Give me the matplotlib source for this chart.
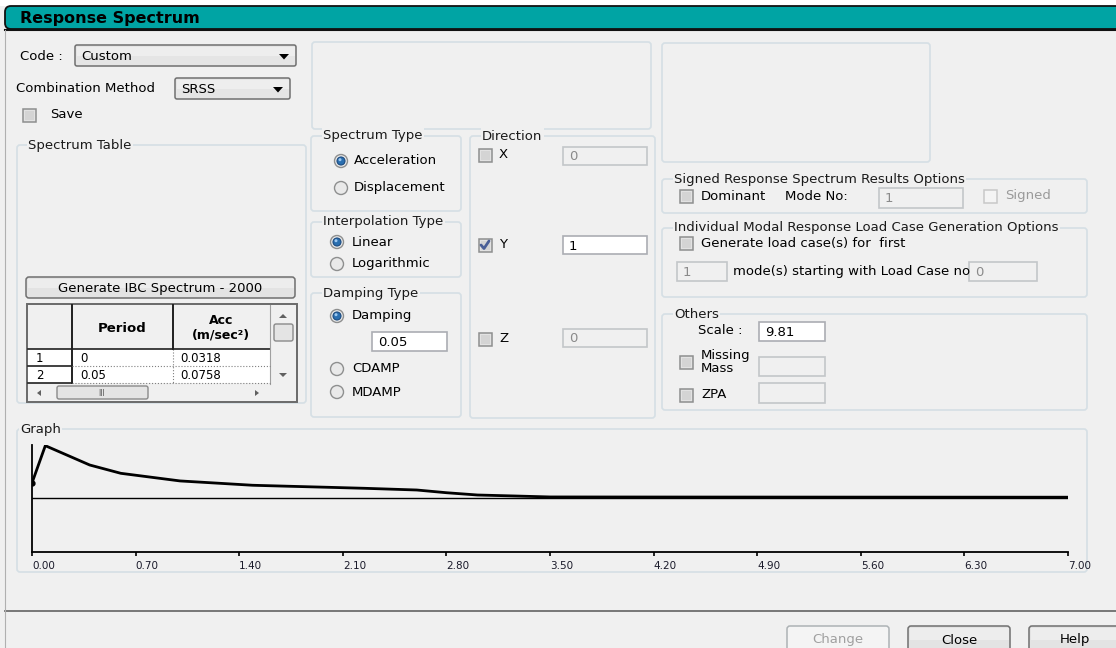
import matplotlib
matplotlib.use("Agg")
import matplotlib.pyplot as plt
from matplotlib.patches import Rectangle, FancyBboxPatch, Circle, Polygon

plt.rcParams['font.family'] = ['DejaVu Sans']

# ---------------- data ----------------
period = [0.00, 0.09, 0.39, 0.60, 1.00, 1.27, 1.49, 1.74, 2.00, 2.25, 2.60,
          2.80, 3.01, 3.25, 3.50, 4.40, 7.00]
acc = [0.0318, 0.0758, 0.0530, 0.0432, 0.0342, 0.0314, 0.0291, 0.0279, 0.0267,
       0.0255, 0.0235, 0.0203, 0.0176, 0.0165, 0.0153, 0.0152, 0.0150]
baseline_acc = 0.0138
x_ticks = [0.00, 0.70, 1.40, 2.10, 2.80, 3.50, 4.20, 4.90, 5.60, 6.30, 7.00]
x_tick_labels = ["0.00", "0.70", "1.40", "2.10", "2.80", "3.50", "4.20",
                 "4.90", "5.60", "6.30", "7.00"]
table_rows = ["1", "2"]
table_period = ["0", "0.05"]
table_acc = ["0.0318", "0.0758"]

W, H = 1116, 648
BG = '#F0F0F0'
GRP = '#D5DFE5'
FS = 9.5

fig = plt.figure(figsize=(W / 100, H / 100), dpi=100)
fig.patch.set_facecolor(BG)
ax = fig.add_axes([0, 0, 1, 1])
ax.set_xlim(0, W)
ax.set_ylim(H, 0)
ax.axis('off')


def txt(x, y, s, size=FS, color='#000000', weight='normal', ha='left', z=5):
    ax.text(x, y, s, fontsize=size, color=color, fontweight=weight, ha=ha,
            va='center', zorder=z)


def group(x0, y0, x1, y1, title=None, tx=None):
    ax.add_patch(FancyBboxPatch((x0, y0), x1 - x0, y1 - y0,
                                boxstyle="round,pad=0,rounding_size=3",
                                fc='none', ec=GRP, lw=1.2, zorder=1))
    if title:
        ax.text(tx if tx else x0 + 12, y0, title, fontsize=FS, color='#1a1a1a',
                ha='left', va='center', zorder=3,
                bbox=dict(fc=BG, ec='none', pad=1.0))


def textbox(x0, y0, x1, y1, s='', enabled=True):
    fc = 'white' if enabled else BG
    ec = '#ABADB3' if enabled else '#C3C6C9'
    ax.add_patch(Rectangle((x0, y0), x1 - x0, y1 - y0, fc=fc, ec=ec, lw=1.2,
                           zorder=2))
    if s:
        txt(x0 + 6, (y0 + y1) / 2 + 1, s, color='#000000' if enabled else '#8A8A8A')


def checkbox(cx, cy, checked=False, enabled=True):
    s = 13
    ec = '#8E8F8F' if enabled else '#C8C8C8'
    fc = '#E2E2E2' if enabled else '#F4F4F4'
    ax.add_patch(Rectangle((cx - s / 2, cy - s / 2), s, s, fc=fc, ec=ec, lw=1.1,
                           zorder=3))
    if enabled:
        ax.add_patch(Rectangle((cx - s / 2 + 2, cy - s / 2 + 2), s - 4, s - 4,
                               fc='#D4D4D4', ec='none', zorder=3))
    if checked:
        ax.plot([cx - 4, cx - 1, cx + 4], [cy, cy + 3.5, cy - 4], color='#4A5F97',
                lw=2.0, zorder=4, solid_capstyle='round')


def radio(cx, cy, selected=False):
    ax.add_patch(Circle((cx, cy), 6.5, fc='#E9E9E9', ec='#8E8F8F', lw=1.0, zorder=3))
    if selected:
        ax.add_patch(Circle((cx, cy), 4.0, fc='#2A6FB0', ec='#1C4B80', lw=0.8,
                            zorder=4))
        ax.add_patch(Circle((cx - 1, cy - 1.3), 1.5, fc='#9CC8F0', ec='none',
                            zorder=5))


def button(x0, y0, x1, y1, s, enabled=True):
    ec = '#707070' if enabled else '#ADB2B5'
    fc = '#E3E3E3' if enabled else '#F4F4F4'
    ax.add_patch(FancyBboxPatch((x0, y0), x1 - x0, y1 - y0,
                                boxstyle="round,pad=0,rounding_size=3",
                                fc=fc, ec=ec, lw=1.1, zorder=2))
    if enabled:
        ax.add_patch(Rectangle((x0 + 1.5, y0 + 1.5), x1 - x0 - 3, (y1 - y0) / 2 - 1,
                               fc='#EDEDED', ec='none', zorder=2))
    txt((x0 + x1) / 2, (y0 + y1) / 2 + 1, s, color='#000000' if enabled else '#A0A0A0',
        ha='center')


def combo(x0, y0, x1, y1, s):
    ax.add_patch(FancyBboxPatch((x0, y0), x1 - x0, y1 - y0,
                                boxstyle="round,pad=0,rounding_size=2",
                                fc='#E5E5E5', ec='#707070', lw=1.1, zorder=2))
    ax.add_patch(Rectangle((x0 + 1.5, y0 + 1.5), x1 - x0 - 3, (y1 - y0) / 2 - 1,
                           fc='#EEEEEE', ec='none', zorder=2))
    txt(x0 + 6, (y0 + y1) / 2 + 1, s)
    cx, cy = x1 - 12, (y0 + y1) / 2 + 1
    ax.add_patch(Polygon([[cx - 5, cy - 2.5], [cx + 5, cy - 2.5], [cx, cy + 3]],
                         closed=True, fc='#000000', ec='none', zorder=4))


# ---------------- title bar ----------------
ax.add_patch(Rectangle((0, 0), W, 6, fc='white', ec='none', zorder=0))
ax.add_patch(FancyBboxPatch((5, 6), W + 20, 23,
                            boxstyle="round,pad=0,rounding_size=6",
                            fc='#00A4A4', ec='#111111', lw=1.3, zorder=1))
ax.plot([5, W], [30, 30], color='#111111', lw=1.5, zorder=2)
txt(20, 18, "Response Spectrum", size=11.5, weight='bold')

# bottom separator
ax.plot([5, W], [611, 611], color='#6E6E6E', lw=1.3, zorder=2)
ax.plot([5, 5], [30, 648], color='#B0B0B0', lw=0.8, zorder=2)

# ---------------- left column ----------------
txt(20, 56, "Code :")
combo(75, 45, 296, 66, "Custom")
txt(16, 88, "Combination Method")
combo(175, 78, 290, 99, "SRSS")
checkbox(29, 115)
txt(50, 115, "Save")

group(17, 145, 306, 403, "Spectrum Table", tx=28)
button(26, 277, 295, 298, "Generate IBC Spectrum - 2000")

# table
tx0, tx1, ty0, ty1 = 27, 297, 304, 402
ax.add_patch(Rectangle((tx0, ty0), tx1 - tx0, ty1 - ty0, fc=BG, ec='#6A6A6A', lw=1.4,
                       zorder=2))
hdr_bot = 349
row_h = 17
ax.add_patch(Rectangle((28, hdr_bot), 242, row_h * len(table_rows), fc='white',
                       ec='none', zorder=2))
ax.plot([72, 72], [305, hdr_bot + row_h * len(table_rows)], color='#202020', lw=1.4,
        zorder=3)
ax.plot([173, 173], [305, hdr_bot], color='#202020', lw=1.4, zorder=3)
ax.plot([173, 173], [hdr_bot, hdr_bot + row_h * len(table_rows)], color='#808080',
        lw=0.8, ls=':', zorder=3)
ax.plot([28, 270], [hdr_bot, hdr_bot], color='#202020', lw=1.2, zorder=3)
ax.plot([270, 270], [305, 384], color='#A0A0A0', lw=0.8, zorder=3)
txt(122, 328, "Period", size=9.5, weight='bold', ha='center')
txt(221, 320, "Acc", size=9.0, weight='bold', ha='center')
txt(221, 335, "(m/sec²)", size=9.0, weight='bold', ha='center')
for i, (r, p, a) in enumerate(zip(table_rows, table_period, table_acc)):
    yc = hdr_bot + row_h * i + row_h / 2
    yb = hdr_bot + row_h * (i + 1)
    txt(36, yc + 1, r, size=8.5)
    txt(80, yc + 1, p, size=8.5)
    txt(180, yc + 1, a, size=8.5)
    ax.plot([28, 72], [yb, yb], color='#202020', lw=1.2, zorder=3)
    ax.plot([72, 270], [yb, yb], color='#808080', lw=0.8, ls=':', zorder=3)
# vertical scrollbar
ax.add_patch(Polygon([[279, 318], [287, 318], [283, 314]], closed=True, fc='#606060',
                     ec='none', zorder=4))
ax.add_patch(FancyBboxPatch((274, 324), 19, 17, boxstyle="round,pad=0,rounding_size=2",
                            fc='#E4E4E4', ec='#8A8A8A', lw=1.0, zorder=4))
ax.add_patch(Polygon([[279, 373], [287, 373], [283, 377]], closed=True, fc='#606060',
                     ec='none', zorder=4))
# horizontal scrollbar
ax.add_patch(Polygon([[37, 393], [41, 390], [41, 396]], closed=True, fc='#606060',
                     ec='none', zorder=4))
ax.add_patch(FancyBboxPatch((57, 386), 91, 13, boxstyle="round,pad=0,rounding_size=2",
                            fc='#E4E4E4', ec='#8A8A8A', lw=1.0, zorder=4))
txt(102, 393, "III", size=5.5, color='#555555', ha='center', z=6)
ax.add_patch(Polygon([[259, 393], [255, 390], [255, 396]], closed=True, fc='#606060',
                     ec='none', zorder=4))

# ---------------- middle column ----------------
group(312, 42, 651, 129)
group(311, 136, 461, 211, "Spectrum Type")
radio(341, 161, True)
txt(354, 161, "Acceleration")
radio(341, 188)
txt(354, 188, "Displacement")

group(311, 222, 461, 277, "Interpolation Type")
radio(337, 242, True)
txt(352, 242, "Linear")
radio(337, 264)
txt(352, 264, "Logarithmic")

group(311, 293, 461, 417, "Damping Type")
radio(337, 316, True)
txt(352, 316, "Damping")
textbox(372, 332, 447, 351, "0.05")
radio(337, 369)
txt(352, 369, "CDAMP")
radio(337, 392)
txt(352, 392, "MDAMP")

group(470, 136, 655, 418, "Direction")
checkbox(485, 155)
txt(499, 155, "X")
textbox(563, 147, 647, 165, "0", enabled=False)
checkbox(485, 245, checked=True)
txt(499, 245, "Y")
textbox(563, 236, 647, 254, "1")
checkbox(485, 339)
txt(499, 339, "Z")
textbox(563, 329, 647, 347, "0", enabled=False)

# ---------------- right column ----------------
group(662, 43, 930, 162)
group(662, 179, 1087, 213, "Signed Response Spectrum Results Options")
checkbox(686, 196)
txt(701, 196, "Dominant")
txt(785, 196, "Mode No:")
textbox(879, 188, 963, 208, "1", enabled=False)
checkbox(990, 196, enabled=False)
txt(1005, 196, "Signed", color='#9A9A9A')

group(662, 228, 1087, 297, "Individual Modal Response Load Case Generation Options")
checkbox(686, 243)
txt(701, 243, "Generate load case(s) for  first")
textbox(677, 262, 727, 281, "1", enabled=False)
txt(733, 271, "mode(s) starting with Load Case no")
textbox(969, 262, 1037, 281, "0", enabled=False)

group(662, 314, 1087, 410, "Others")
txt(698, 331, "Scale :")
textbox(759, 322, 825, 341, "9.81")
checkbox(686, 362)
txt(701, 355, "Missing")
txt(701, 369, "Mass")
textbox(759, 357, 825, 376, "", enabled=False)
checkbox(686, 395)
txt(701, 395, "ZPA")
textbox(759, 383, 825, 403, "", enabled=False)

# ---------------- graph group ----------------
group(17, 429, 1087, 572, "Graph", tx=20)

# bottom buttons
button(787, 626, 889, 652, "Change", enabled=False)
button(908, 626, 1010, 652, "Close")
button(1029, 626, 1120, 652, "Help")

# ---------------- plot ----------------
gx0, gx1, gy0, gy1 = 32, 1068, 445, 552.3
gax = fig.add_axes([gx0 / W, (H - gy1) / H, (gx1 - gx0) / W, (gy1 - gy0) / H])
gax.patch.set_alpha(0)
gax.set_xlim(0, 7.0)
gax.set_ylim(-0.050, 0.0766)
gax.plot([0, 7.0], [baseline_acc, baseline_acc], color='#000000', lw=1.0)
gax.plot(period, acc, color='#000000', lw=2.0, solid_joinstyle='round',
         marker='o', markevery=[0], markersize=3.5)
for side in ['top', 'right']:
    gax.spines[side].set_visible(False)
gax.spines['left'].set_linewidth(1.3)
gax.spines['bottom'].set_linewidth(1.3)
gax.set_yticks([])
gax.set_xticks(x_ticks)
gax.set_xticklabels(x_tick_labels, fontsize=7.5, color='#1a1a2a', ha='left')
gax.tick_params(axis='x', direction='out', length=3, width=1.2, pad=3)

fig.savefig("out.png", dpi=100, facecolor=BG)
